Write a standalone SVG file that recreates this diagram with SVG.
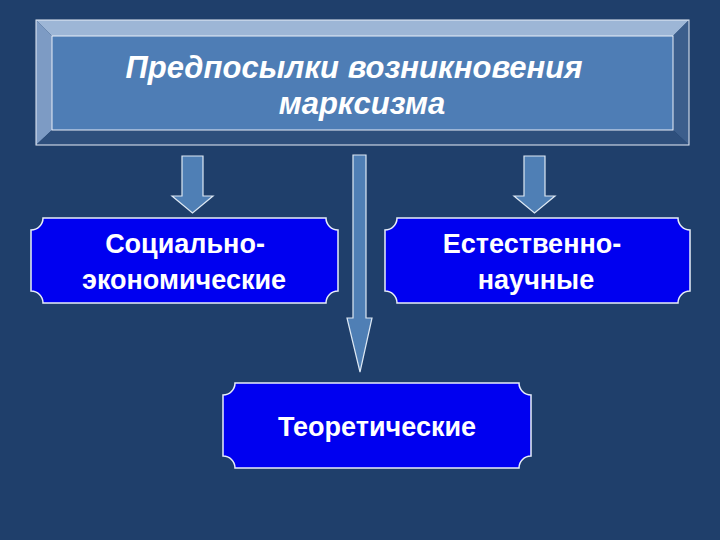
<svg xmlns="http://www.w3.org/2000/svg" width="720" height="540" viewBox="0 0 720 540">
<style>
.plaque{fill:#0000f0;stroke:#e8eef8;stroke-width:1.5}
.arr{fill:#4f7fb5;stroke:#dde8f4;stroke-width:1.2}
.t{font-family:"Liberation Sans",Arial,sans-serif;font-weight:bold;font-size:27px;fill:#ffffff;text-anchor:middle}
.h{font-family:"Liberation Sans",Arial,sans-serif;font-weight:bold;font-style:italic;font-size:31px;fill:#ffffff;text-anchor:middle}
</style>
<rect width="720" height="540" fill="#1f3f6b"/>
<g id="title">
<polygon points="36,20 689,20 673,36 52,36" fill="#9db6d6"/>
<polygon points="36,20 52,36 52,130 36,145" fill="#7d9bc4"/>
<polygon points="689,20 689,145 673,130 673,36" fill="#3c5e8c"/>
<polygon points="36,145 52,130 673,130 689,145" fill="#2e4f7c"/>
<rect x="52" y="36" width="621" height="94" fill="#4e7db5" stroke="#e8eef8" stroke-width="1"/>
<rect x="36" y="20" width="653" height="125" fill="none" stroke="#e8eef8" stroke-width="1"/>
<text class="h" x="354" y="78">Предпосылки возникновения</text>
<text class="h" x="362" y="114">марксизма</text>
</g>
<g id="connectors">
<path class="arr" d="M182,156 H203 V196 H213 L192.5,213 L172,196 H182 Z"/>
<path class="arr" d="M524,156 H545 V196 H555 L534.5,213 L514,196 H524 Z"/>
<path class="arr" d="M353,155 H366 V318 H372 L360,372 L347,318 H353 Z"/>
</g>
<g id="social">
<path class="plaque" d="M43,218 H326 A12 12 0 0 0 338,230 V291 A12 12 0 0 0 326,303 H43 A12 12 0 0 0 31,291 V230 A12 12 0 0 0 43,218 Z"/>
<text class="t" x="185" y="253">Социально-</text>
<text class="t" x="184" y="289">экономические</text>
</g>
<g id="natural">
<path class="plaque" d="M397,218 H678 A12 12 0 0 0 690,230 V291 A12 12 0 0 0 678,303 H397 A12 12 0 0 0 385,291 V230 A12 12 0 0 0 397,218 Z"/>
<text class="t" x="532" y="253">Естественно-</text>
<text class="t" x="536" y="289">научные</text>
</g>
<g id="theoretical">
<path class="plaque" d="M235,383 H519 A12 12 0 0 0 531,395 V456 A12 12 0 0 0 519,468 H235 A12 12 0 0 0 223,456 V395 A12 12 0 0 0 235,383 Z"/>
<text class="t" x="377" y="436">Теоретические</text>
</g>
</svg>
